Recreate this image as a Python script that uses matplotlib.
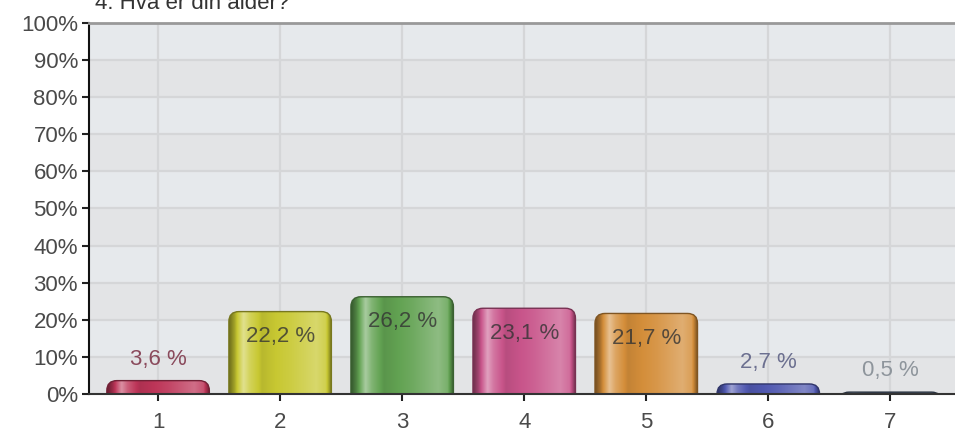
import numpy as np
import matplotlib
matplotlib.use('Agg')
import matplotlib.pyplot as plt
from matplotlib.patches import FancyBboxPatch
from matplotlib.colors import to_rgb

# data
categories = ['1', '2', '3', '4', '5', '6', '7']
shares = [3.6, 22.2, 26.2, 23.1, 21.7, 2.7, 0.5]
value_labels = ['3,6 %', '22,2 %', '26,2 %', '23,1 %', '21,7 %', '2,7 %', '0,5 %']
title = '4. Hva er din alder?'

bar_colors = ['#bd3558', '#c8c832', '#62a252', '#c8548a', '#d48e3a', '#5058b0', '#44546a']
outside_label_colors = ['#8a4a5c', '#444444', '#444444', '#444444', '#444444', '#6c7090', '#8e959c']

plt.rcParams['font.family'] = ['Liberation Sans', 'DejaVu Sans']

fig = plt.figure(figsize=(9.55, 4.32), dpi=100)
ax = fig.add_axes([0.0932, 0.088, 1 - 0.0932, 0.859])

x = np.arange(1, len(categories) + 1)
xlim = (0.434, 7.53)
ylim = (0, 100)

# background bands + grid
for i, lo in enumerate(range(0, 100, 10)):
    ax.axhspan(lo, lo + 10, color='#e6e9ec' if i % 2 else '#e3e4e6', zorder=0, lw=0)
for yv in range(10, 100, 10):
    ax.axhline(yv, color='#d5d6d8', lw=1.6, zorder=1)
for xv in x:
    ax.axvline(xv, color='#d5d6d8', lw=1.6, zorder=1)

# horizontal shading profile for the glossy bars
prof_t = [0.0, 0.05, 0.14, 0.2, 0.32, 0.6, 0.85, 0.94, 1.0]
prof_f = [-0.45, -0.2, 0.45, 0.2, -0.08, 0.08, 0.28, 0.15, -0.45]
tt = np.linspace(0, 1, 200)
ff = np.interp(tt, prof_t, prof_f)

width = 0.84
px_x = (xlim[1] - xlim[0]) / (955 * (1 - 0.0932))
px_y = (ylim[1] - ylim[0]) / (432 * 0.859)
rad = 10 * px_x
asp = px_y / px_x

for xi, v, c in zip(x, shares, bar_colors):
    base = np.array(to_rgb(c))
    img = np.empty((1, len(tt), 3))
    for k, f in enumerate(ff):
        if f >= 0:
            img[0, k] = base + (1 - base) * f
        else:
            img[0, k] = base * (1 + f)
    patch = FancyBboxPatch((xi - width / 2, -4), width, v + 4,
                           boxstyle='round,pad=0,rounding_size=%f' % rad,
                           mutation_aspect=asp, facecolor='none',
                           edgecolor=base * 0.6, lw=1.0, zorder=3)
    ax.add_patch(patch)
    im = ax.imshow(img, extent=(xi - width / 2, xi + width / 2, -4, v),
                   aspect='auto', zorder=2, interpolation='bilinear')
    im.set_clip_path(patch)

# value labels
for xi, v, lab, lc in zip(x, shares, value_labels, outside_label_colors):
    if v > 10:
        ax.text(xi, v - 6.8, lab, ha='center', va='center', fontsize=16,
                color='#333333', alpha=0.8, zorder=4)
    else:
        ax.text(xi, v + 5.7, lab, ha='center', va='center', fontsize=16,
                color=lc, zorder=4)

ax.set_xlim(*xlim)
ax.set_ylim(*ylim)
ax.set_xticks(x)
ax.set_xticklabels(categories)
ax.set_yticks(range(0, 101, 10))
ax.set_yticklabels(['%d%%' % v for v in range(0, 101, 10)])
ax.tick_params(axis='both', labelsize=16, labelcolor='#4a4a4a', length=5,
               width=1.5, color='#222222', direction='out')
ax.tick_params(axis='y', pad=3)
ax.tick_params(axis='x', pad=8)

ax.spines['right'].set_visible(False)
ax.spines['top'].set_color('#999999')
ax.spines['top'].set_linewidth(2)
ax.spines['left'].set_color('#111111')
ax.spines['left'].set_linewidth(1.5)
ax.spines['bottom'].set_color('#333333')
ax.spines['bottom'].set_linewidth(1.5)
for s in ax.spines.values():
    s.set_zorder(5)

# the title sits partly above the picture's top edge, as in the reference
fig.text(95 / 955, 1 - 9 / 432, title, fontsize=16, color='#333333',
         ha='left', va='baseline')

fig.savefig('out.png', dpi=100)
